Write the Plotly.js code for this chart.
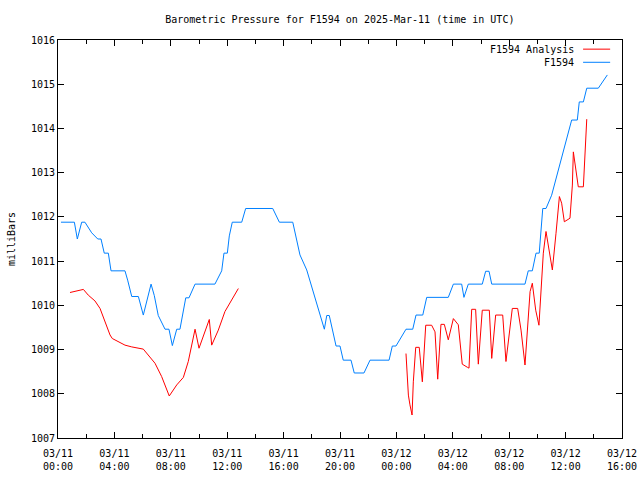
<!DOCTYPE html>
<html>
<head>
<meta charset="utf-8">
<script src="https://cdn.plot.ly/plotly-3.0.1.min.js"></script>
<style>html,body{margin:0;padding:0;background:#fff}#chart{width:640px;height:480px}</style>
</head>
<body>
<div id="chart"></div>
<script>
// Hours after 2025-03-11 00:00 UTC, and pressure in millibars
var stationHours = [0.21,1.16,1.37,1.68,1.91,2.39,2.82,3.05,3.28,3.57,3.76,4.75,4.94,5.23,5.70,6.05,6.60,6.83,7.11,7.59,7.87,8.11,8.42,8.65,9.06,9.29,9.72,11.13,11.61,11.77,12.01,12.15,12.36,13.03,13.31,15.23,15.70,16.65,17.16,17.64,18.89,19.06,19.24,19.72,20.00,20.23,20.78,21.01,21.70,22.13,23.48,23.71,23.97,24.68,25.16,25.39,25.87,26.15,27.68,28.04,28.63,28.79,29.10,30.09,30.33,30.57,30.76,33.12,33.35,33.64,33.90,34.13,34.38,34.61,35.01,35.72,36.43,36.83,36.97,37.26,37.50,38.32,38.96];
var stationPressure = [1011.88,1011.88,1011.50,1011.88,1011.88,1011.64,1011.50,1011.50,1011.18,1011.18,1010.78,1010.78,1010.57,1010.20,1010.20,1009.78,1010.48,1010.22,1009.77,1009.46,1009.46,1009.09,1009.46,1009.46,1010.17,1010.17,1010.48,1010.48,1010.78,1011.18,1011.18,1011.57,1011.88,1011.88,1012.19,1012.19,1011.88,1011.88,1011.14,1010.80,1009.46,1009.77,1009.77,1009.08,1009.08,1008.76,1008.76,1008.47,1008.47,1008.76,1008.76,1009.08,1009.08,1009.46,1009.46,1009.78,1009.78,1010.18,1010.18,1010.48,1010.48,1010.18,1010.48,1010.48,1010.77,1010.77,1010.48,1010.48,1010.78,1010.78,1011.18,1011.18,1012.19,1012.19,1012.49,1013.36,1014.19,1014.19,1014.60,1014.60,1014.91,1014.91,1015.21];

var analysisHoursA = [0.85,1.32,1.80,2.15,2.62,2.98,3.33,3.69,3.85,4.28,4.75,5.23,5.70,6.05,6.88,7.35,7.89,8.42,8.89,9.24,9.72,9.91,10.00,10.73,10.90,11.37,11.84,12.79];
var analysisPressureA = [1010.29,1010.33,1010.36,1010.23,1010.10,1009.93,1009.63,1009.33,1009.25,1009.18,1009.10,1009.06,1009.04,1009.01,1008.69,1008.39,1007.95,1008.20,1008.37,1008.73,1009.46,1009.14,1009.03,1009.68,1009.10,1009.44,1009.86,1010.38];
var analysisHoursB = [24.68,24.85,24.96,25.11,25.20,25.37,25.62,25.82,25.84,26.08,26.50,26.74,26.93,27.16,27.40,27.68,28.04,28.39,28.67,29.03,29.15,29.34,29.62,29.81,30.09,30.59,30.76,31.04,31.54,31.77,31.94,32.22,32.60,32.84,33.12,33.36,33.48,33.64,33.88,34.11,34.30,34.42,34.61,34.77,35.06,35.32,35.56,35.72,35.91,36.31,36.48,36.55,36.62,36.74,36.90,37.26,37.38,37.50];
var analysisPressureB = [1008.91,1007.97,1007.75,1007.52,1008.27,1009.05,1009.05,1008.46,1008.27,1009.55,1009.55,1009.40,1008.33,1009.57,1009.57,1009.22,1009.70,1009.56,1008.67,1008.60,1008.58,1009.91,1009.91,1008.67,1009.89,1009.89,1008.80,1009.78,1009.78,1008.73,1009.14,1009.93,1009.93,1009.44,1008.65,1009.67,1010.31,1010.50,1009.89,1009.55,1010.50,1011.18,1011.67,1011.33,1010.80,1011.63,1012.46,1012.31,1011.89,1011.97,1012.72,1013.47,1013.32,1012.99,1012.68,1012.68,1013.44,1014.21];

var seriesNames = ["F1594 Analysis", "F1594"];
var seriesColors = ["#ff0000", "#0080ff"];

function pad(n){return (n<10?"0":"")+n;}
function toDate(h){
  var d = new Date(Date.UTC(2025,2,11) + Math.round(h*3600)*1000);
  return d.getUTCFullYear()+"-"+pad(d.getUTCMonth()+1)+"-"+pad(d.getUTCDate())+" "+pad(d.getUTCHours())+":"+pad(d.getUTCMinutes())+":"+pad(d.getUTCSeconds());
}

var analysisX = analysisHoursA.map(toDate).concat([null], analysisHoursB.map(toDate));
var analysisY = analysisPressureA.concat([null], analysisPressureB);

var font = "DejaVu Sans Mono, monospace";

var traces = [
  {x: analysisX, y: analysisY, type: "scatter", mode: "lines", name: seriesNames[0],
   line: {color: seriesColors[0], width: 1}, connectgaps: false, showlegend: false},
  {x: stationHours.map(toDate), y: stationPressure, type: "scatter", mode: "lines", name: seriesNames[1],
   line: {color: seriesColors[1], width: 1}, showlegend: false}
];

var legX = 0.918, legY = [0.977, 0.944];
var layout = {
  width: 640, height: 480,
  margin: {l: 58, r: 18, t: 40, b: 42},
  paper_bgcolor: "#ffffff", plot_bgcolor: "#ffffff",
  font: {family: font, size: 10, color: "#000"},
  title: {text: "Barometric Pressure for F1594 on 2025-Mar-11 (time in UTC)", x: 0.531, xanchor: "center", y: 0.96, yanchor: "middle", font: {family: font, size: 10}},
  showlegend: false,
  xaxis: {
    type: "date",
    range: ["2025-03-11 00:00:00", "2025-03-12 16:00:00"],
    tick0: "2025-03-11 00:00:00", dtick: 4*3600*1000,
    tickformat: "%m/%d<br>%H:%M",
    ticks: "inside", ticklen: 6, tickcolor: "#000", tickwidth: 1,
    ticklabelstandoff: 6,
    minor: {dtick: 2*3600*1000, tick0: "2025-03-11 00:00:00", ticks: "inside", ticklen: 4, tickcolor: "#000"},
    showline: true, linecolor: "#000", linewidth: 1, mirror: "ticks",
    showgrid: false, zeroline: false,
    tickfont: {family: font, size: 10}
  },
  yaxis: {
    range: [1007, 1016], dtick: 1, tick0: 1007,
    ticks: "inside", ticklen: 6, tickcolor: "#000", tickwidth: 1,
    showline: true, linecolor: "#000", linewidth: 1, mirror: "ticks",
    showgrid: false, zeroline: false,
    tickfont: {family: font, size: 10},
    title: {text: "milliBars", font: {family: font, size: 10}, standoff: 13}
  },
  annotations: [
    {xref: "paper", yref: "paper", x: legX, y: legY[0], xanchor: "right", yanchor: "middle", text: seriesNames[0], showarrow: false, font: {family: font, size: 10}},
    {xref: "paper", yref: "paper", x: legX, y: legY[1], xanchor: "right", yanchor: "middle", text: seriesNames[1], showarrow: false, font: {family: font, size: 10}}
  ],
  shapes: [
    {type: "line", xref: "paper", yref: "paper", x0: 0.931, x1: 0.979, y0: legY[0], y1: legY[0], line: {color: seriesColors[0], width: 1}},
    {type: "line", xref: "paper", yref: "paper", x0: 0.931, x1: 0.979, y0: legY[1], y1: legY[1], line: {color: seriesColors[1], width: 1}}
  ]
};

Plotly.newPlot("chart", traces, layout, {staticPlot: true, displayModeBar: false});
</script>
</body>
</html>
